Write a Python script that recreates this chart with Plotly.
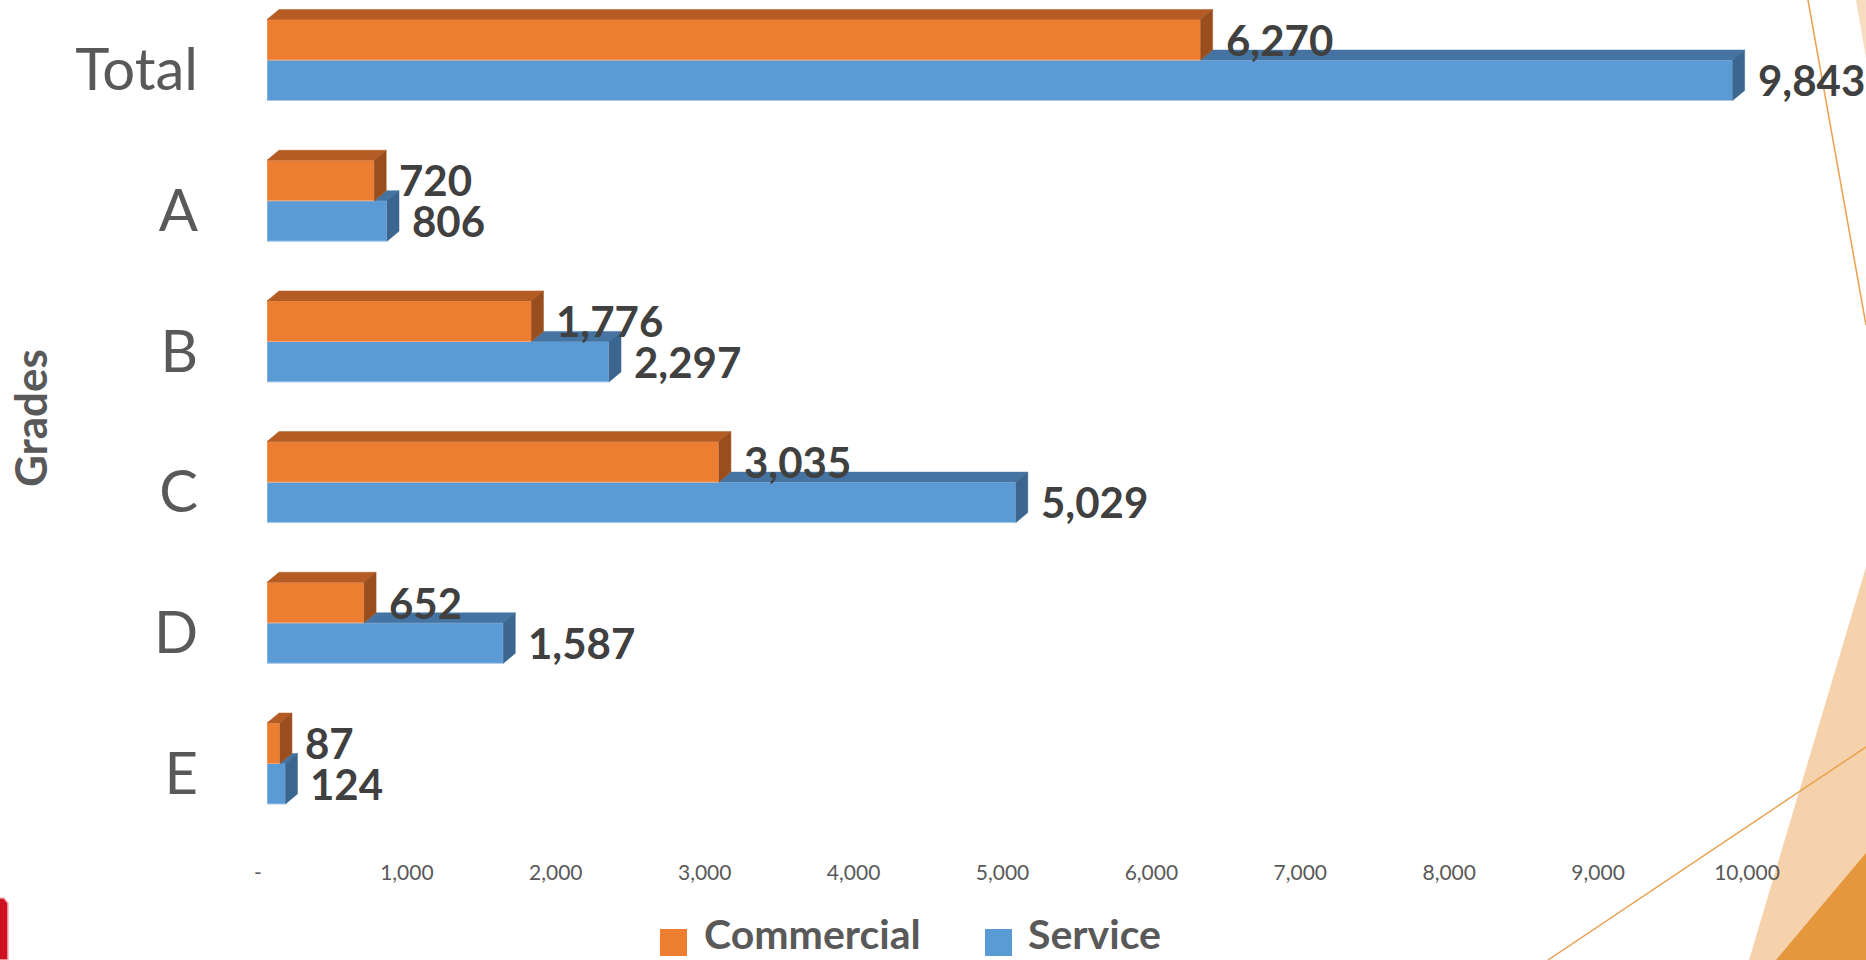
import plotly.graph_objects as go

# ---------------- data ----------------
categories = ["Total", "A", "B", "C", "D", "E"]
commercial = [6270, 720, 1776, 3035, 652, 87]
service = [9843, 806, 2297, 5029, 1587, 124]
series_names = ["Commercial", "Service"]
x_tick_values = [0, 1000, 2000, 3000, 4000, 5000, 6000, 7000, 8000, 9000, 10000]
x_tick_labels = ["-", "1,000", "2,000", "3,000", "4,000", "5,000",
                 "6,000", "7,000", "8,000", "9,000", "10,000"]
y_title = "Grades"

# ---------------- geometry / style ----------------
W, H = 1866, 960
PLOT_L, PLOT_R = 267, 1846
PLOT_T, PLOT_B = 0, 850
PX_PER_UNIT = 0.1489          # pixels per value unit
CAT_STEP = 140.7              # pixels between categories
FIRST_Y = 60                  # pixel y of first category boundary
XMAX = (PLOT_R - PLOT_L) / PX_PER_UNIT
Y_TOP = -(FIRST_Y - PLOT_T) / CAT_STEP
Y_BOT = (PLOT_B - FIRST_Y) / CAT_STEP
BAR_H = 40.5 / CAT_STEP
DEPTH_X_PX, DEPTH_Y_PX = 12, 10
DX = DEPTH_X_PX / PX_PER_UNIT
DY = DEPTH_Y_PX / CAT_STEP

ORANGE, ORANGE_TOP, ORANGE_SIDE = "#ED7D31", "#B45C24", "#9A4E1E"
BLUE, BLUE_TOP, BLUE_SIDE = "#5B9BD5", "#4574A3", "#3B6690"
FONT = "Lato"
LABEL_COLOR = "#404040"
AXIS_COLOR = "#595959"


def paper(px, py):
    return ((px - PLOT_L) / (PLOT_R - PLOT_L), (PLOT_B - py) / (PLOT_B - PLOT_T))


ypos = list(range(len(categories)))

fig = go.Figure()

# front faces (bars)
fig.add_trace(go.Bar(
    y=ypos, x=service, orientation="h", name=series_names[1],
    width=BAR_H, offset=0, marker=dict(color=BLUE, line=dict(color="#A9C8E8", width=1)),
    showlegend=False, hoverinfo="x+name"))
fig.add_trace(go.Bar(
    y=ypos, x=commercial, orientation="h", name=series_names[0],
    width=BAR_H, offset=-BAR_H, marker=dict(color=ORANGE, line=dict(color="#F3A877", width=1)),
    showlegend=False, hoverinfo="x+name"))


def poly_trace(xs, ys, color):
    return go.Scatter(x=xs, y=ys, mode="lines", fill="toself", fillcolor=color,
                      line=dict(color=color, width=0.5), hoverinfo="skip",
                      showlegend=False)


# blue top faces (visible part only) and side faces
bt_x, bt_y, bs_x, bs_y = [], [], [], []
for i, (vo, vb) in enumerate(zip(commercial, service)):
    if vb > vo:
        bt_x += [vo, vb, vb + DX, vo + DX, vo, None]
        bt_y += [i, i, i - DY, i - DY, i, None]
    bs_x += [vb, vb + DX, vb + DX, vb, vb, None]
    bs_y += [i, i - DY, i + BAR_H - DY, i + BAR_H, i, None]
fig.add_trace(poly_trace(bt_x, bt_y, BLUE_TOP))
fig.add_trace(poly_trace(bs_x, bs_y, BLUE_SIDE))

# orange top faces and side faces
ot_x, ot_y, os_x, os_y = [], [], [], []
for i, vo in enumerate(commercial):
    top = i - BAR_H
    ot_x += [0, vo, vo + DX, DX, 0, None]
    ot_y += [top, top, top - DY, top - DY, top, None]
    os_x += [vo, vo + DX, vo + DX, vo, vo, None]
    os_y += [top, top - DY, i - DY, i, top, None]
fig.add_trace(poly_trace(ot_x, ot_y, ORANGE_TOP))
fig.add_trace(poly_trace(os_x, os_y, ORANGE_SIDE))

annotations = []
# value labels
for i, (vo, vb) in enumerate(zip(commercial, service)):
    for v, yc in ((vo, i - BAR_H / 2), (vb, i + BAR_H / 2)):
        annotations.append(dict(
            x=v, y=yc, xref="x", yref="y", text=f"{v:,}", showarrow=False,
            xanchor="left", yanchor="middle", xshift=DEPTH_X_PX + 11,
            font=dict(family=FONT, size=42, color=LABEL_COLOR, weight="bold")))

# y-axis title
gx, gy = paper(30, 418)
annotations.append(dict(x=gx, y=gy, xref="paper", yref="paper", text=y_title,
                        textangle=-90, showarrow=False, xanchor="center", yanchor="middle",
                        font=dict(family=FONT, size=44, color=AXIS_COLOR, weight="bold")))

# manual legend
shapes = []
legend_items = [(series_names[0], ORANGE, 660, 702), (series_names[1], BLUE, 985, 1026)]
for name, color, sq_x, tx in legend_items:
    x0, y0 = paper(sq_x, 929)
    x1, y1 = paper(sq_x + 27, 956)
    shapes.append(dict(type="rect", xref="paper", yref="paper", x0=x0, x1=x1, y0=y0, y1=y1,
                       fillcolor=color, line=dict(width=0)))
    ax, ay = paper(tx, 960)
    annotations.append(dict(x=ax, y=ay, xref="paper", yref="paper", text=name,
                            showarrow=False, xanchor="left", yanchor="bottom",
                            font=dict(family=FONT, size=41, color=AXIS_COLOR, weight="bold")))


# background decorations (slide theme)
def path_from(points):
    pts = [paper(px, py) for px, py in points]
    return "M " + " L ".join(f"{x:.5f},{y:.5f}" for x, y in pts) + " Z"


shapes += [
    dict(type="path", xref="paper", yref="paper", layer="below",
         path=path_from([(1856, 0), (1866, 0), (1866, 58)]),
         fillcolor="#F7DCC0", line=dict(width=0)),
    dict(type="path", xref="paper", yref="paper", layer="below",
         path=path_from([(1866, 567), (1749, 960), (1866, 960)]),
         fillcolor="#F5D2AB", line=dict(width=0)),
    dict(type="path", xref="paper", yref="paper", layer="below",
         path=path_from([(1866, 853), (1776, 960), (1866, 960)]),
         fillcolor="#E4973D", line=dict(width=0)),
]
for (ax_, ay_), (bx_, by_) in [((1808, 0), (1866, 325)), ((1866, 747), (1548, 960))]:
    x0, y0 = paper(ax_, ay_)
    x1, y1 = paper(bx_, by_)
    shapes.append(dict(type="line", xref="paper", yref="paper", x0=x0, y0=y0, x1=x1, y1=y1,
                       line=dict(color="#E9A04F", width=1.5), layer="below"))
# red tab bottom-left
shapes.append(dict(type="path", xref="paper", yref="paper",
                   path=path_from([(-2, 960), (-2, 898), (4, 898), (8, 903), (8, 960)]),
                   fillcolor="#CF1020", line=dict(color="#F1B7BD", width=1.5)))

fig.update_layout(
    width=W, height=H,
    margin=dict(l=PLOT_L, r=W - PLOT_R, t=PLOT_T, b=H - PLOT_B, pad=0),
    paper_bgcolor="white", plot_bgcolor="white",
    barmode="overlay",
    showlegend=False,
    xaxis=dict(range=[0, XMAX], tickvals=x_tick_values, ticktext=x_tick_labels,
               showgrid=False, zeroline=False, showline=False, ticks="",
               tickfont=dict(family=FONT, size=21, color=AXIS_COLOR),
               ticklabelshift=-9, ticklabelstandoff=8),
    yaxis=dict(range=[Y_BOT, Y_TOP], tickvals=ypos, ticktext=categories,
               showgrid=False, zeroline=False, showline=False, ticks="",
               tickfont=dict(family=FONT, size=58, color=AXIS_COLOR, weight=400),
               ticklabelstandoff=68, ticklabelshift=-10),
    annotations=annotations,
    shapes=shapes,
)

fig.write_html("out.html")
